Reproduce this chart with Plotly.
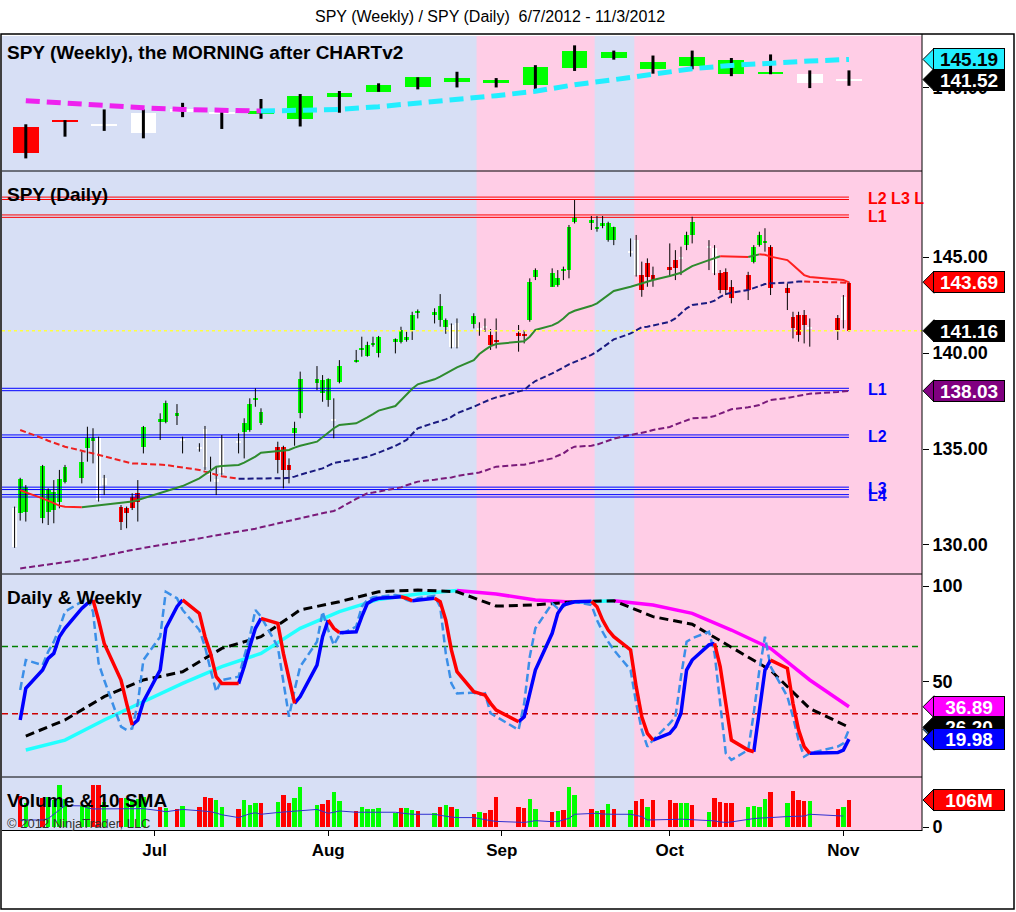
import pandas as pd
import plotly.graph_objects as go
from plotly.subplots import make_subplots

FONT = "Liberation Sans, Arial, sans-serif"

# ---- trading days on the chart (Jun 6 - Nov 2, 2012)
jun = [6, 7, 8, 11, 12, 13, 14, 15, 18, 19, 20, 21, 22, 25, 26, 27, 28, 29]
jul = [2, 3, 5, 6, 9, 10, 11, 12, 13, 16, 17, 18, 19, 20, 23, 24, 25, 26, 27, 30, 31]
aug = [1, 2, 3, 6, 7, 8, 9, 10, 13, 14, 15, 16, 17, 20, 21, 22, 23, 24, 27, 28, 29, 30, 31]
sep = [4, 5, 6, 7, 10, 11, 12, 13, 14, 17, 18, 19, 20, 21, 24, 25, 26, 27, 28]
octo = [1, 2, 3, 4, 5, 8, 9, 10, 11, 12, 15, 16, 17, 18, 19, 22, 23, 24, 25, 26, 31]
nov = [1, 2]
days = ([f"2012-06-{d:02d}" for d in jun] + [f"2012-07-{d:02d}" for d in jul]
        + [f"2012-08-{d:02d}" for d in aug] + [f"2012-09-{d:02d}" for d in sep]
        + [f"2012-10-{d:02d}" for d in octo] + [f"2012-11-{d:02d}" for d in nov])

# ---- daily SPY candles
d_open = [129.91, 133.42, 131.74, 134.11, 131.73, 132.78, 132.26, 133.3, 133.51, 135.03, 135.4, 135.56, 133.12, 132.0, 131.65, 131.91, 132.73, 135.12,
          136.4, 136.42, 136.75, 135.52, 135.12, 136.02, 133.73, 133.42, 133.73, 135.42, 135.9, 135.99, 137.6, 136.91, 135.12, 135.12, 134.17, 135.82, 136.86, 138.45, 137.9,
          137.55, 136.58, 138.51, 139.55, 140.16, 139.84, 140.42, 139.98, 140.59, 140.59, 140.68, 141.2, 142.1, 141.98, 141.72, 141.37, 141.46, 140.33, 141.51, 141.3, 141.4, 140.94, 140.7,
          141.06, 141.0, 141.72, 143.98, 144.15, 143.54, 144.3, 144.32, 146.84, 146.79, 146.44, 146.6, 146.75, 146.58, 145.3, 145.88, 144.06, 143.98, 144.06,
          144.32, 144.84, 145.0, 145.62, 146.15, 145.58, 145.45, 144.15, 144.23, 143.45, 144.06, 144.76, 145.62, 145.85, 145.54, 143.37, 141.89, 141.98, 141.98, 141.3, 141.8,
          141.72, 143.63]
d_high = [132.0, 133.5, 133.12, 134.17, 132.95, 133.38, 133.91, 134.17, 134.86, 136.16, 136.08, 135.64, 133.65, 132.08, 132.0, 132.69, 133.38, 136.2,
          136.86, 137.52, 137.34, 135.64, 135.3, 136.2, 134.6, 134.08, 135.73, 135.82, 136.6, 137.64, 138.16, 137.12, 135.38, 135.17, 134.51, 136.42, 139.03, 139.32, 138.85,
          138.68, 137.64, 139.63, 140.16, 140.85, 140.59, 140.85, 140.89, 140.76, 141.37, 141.11, 142.15, 142.27, 142.33, 143.07, 141.8, 141.54, 141.8, 142.07, 141.6, 141.8, 141.25, 141.8,
          141.46, 141.2, 143.89, 144.41, 144.41, 144.32, 144.5, 146.67, 147.97, 147.14, 147.14, 147.14, 146.84, 146.58, 145.97, 146.15, 144.76, 144.93, 144.5,
          145.71, 145.36, 145.54, 146.32, 147.1, 145.88, 145.62, 144.32, 144.41, 143.8, 144.23, 145.62, 146.32, 146.5, 145.62, 143.63, 142.15, 142.15, 142.24, 141.8, 141.98,
          143.02, 143.72]
d_low = [129.85, 131.27, 131.22, 131.13, 131.04, 131.13, 131.91, 133.21, 133.21, 134.34, 134.25, 132.26, 132.6, 130.78, 130.87, 131.82, 131.22, 134.77,
         135.47, 136.34, 136.25, 134.77, 134.86, 133.91, 133.3, 132.6, 133.65, 134.77, 134.51, 135.9, 137.2, 136.25, 133.73, 132.95, 133.21, 135.17, 136.6, 138.07, 137.46,
         137.2, 135.56, 138.42, 139.5, 139.81, 139.81, 140.33, 139.77, 139.98, 140.5, 140.59, 140.68, 141.8, 141.54, 141.37, 141.0, 140.24, 140.24, 141.28, 140.9, 141.1, 140.16, 140.24,
         140.07, 140.5, 141.63, 143.8, 143.45, 143.45, 143.8, 143.89, 146.75, 146.41, 146.32, 146.5, 145.8, 145.62, 145.02, 143.98, 142.93, 143.45, 143.45,
         143.98, 143.8, 144.06, 145.36, 145.71, 144.32, 144.06, 143.11, 143.02, 142.59, 142.76, 144.67, 145.54, 145.28, 143.02, 142.24, 140.76, 140.59, 140.5, 140.33, 140.68,
         141.28, 141.11]
d_close = [131.91, 131.65, 133.04, 131.39, 132.86, 131.82, 133.42, 134.04, 134.34, 135.56, 135.55, 132.34, 133.47, 131.22, 131.91, 132.52, 132.26, 136.16,
           136.55, 137.38, 136.85, 135.42, 135.03, 134.08, 133.65, 133.3, 135.64, 135.34, 136.34, 137.34, 137.68, 136.34, 134.43, 133.91, 133.91, 136.08, 138.63, 138.63, 138.59,
           138.63, 136.5, 139.32, 139.63, 140.24, 140.42, 140.5, 140.85, 140.71, 141.2, 140.85, 141.98, 142.15, 142.15, 142.46, 141.72, 140.33, 141.54, 141.93, 141.25, 141.35, 140.42, 140.6,
           140.89, 140.89, 143.71, 144.32, 143.45, 143.89, 144.4, 146.58, 147.1, 146.93, 146.58, 146.75, 145.88, 145.88, 145.25, 144.06, 143.28, 144.67, 143.8,
           144.5, 144.41, 144.96, 146.15, 146.84, 145.5, 144.15, 143.28, 143.28, 142.85, 143.28, 145.54, 146.15, 145.78, 143.37, 143.11, 141.28, 140.94, 141.46, 141.28, 141.2,
           142.93, 141.16]
d_paint = ("wggggggggggwwrrrrg" "gggwwwwwwwggggrrrgggg" "gwggggggggggggggwwgwwrr"
           "rrggggggggggggwwrrr" "rrwggwwrrrrgggrrrrrwr" "wr")

# moving averages on the daily panel
sma_fast = [None, 132.86, 132.74, 132.43, 132.31, 132.17, 132.05, 131.99, 131.96, 131.99, 132.03, 132.08, 132.1, 132.17, 132.2, 132.26, 132.34, 132.43,
            132.67, 132.76, 132.95, 133.07, 133.47, 133.68, 133.89, 134.08, 134.11, 134.17, 134.29, 134.43, 134.6, 134.81, 134.9, 134.93, 134.95, 135.07, 135.17, 135.38, 135.64,
            135.85, 136.08, 136.25, 136.34, 136.48, 136.65, 136.82, 137.0, 137.24, 137.55, 137.85, 138.14, 138.37, 138.63, 138.77, 138.94, 139.08, 139.25, 139.63, 139.95, 140.16, 140.36, 140.47,
            140.56, 140.61, 140.85, 141.2, 141.44, 141.58, 141.8, 142.07, 142.2, 142.46, 142.59, 142.79, 143.02, 143.23, 143.45, 143.54, 143.63, 143.71, 143.8,
            144.01, 144.08, 144.18, 144.36, 144.53, 144.84, 144.93, 145.04, 145.03, 145.02, 145.0, 145.06, 145.14, 145.12, 145.02, 144.84, 144.58, 144.32, 144.06, 143.96, 143.84,
            143.8, 143.68]
sma_mid = [None, 135.99, 135.89, 135.56, 135.43, 135.33, 135.21, 135.12, 134.91, 134.83, 134.76, 134.69, 134.62, 134.39, 134.32, 134.25, 134.24, 134.22,
           134.18, 134.17, 134.08, 134.03, 133.91, 133.82, 133.73, 133.63, 133.58, 133.45, 133.45, 133.46, 133.46, 133.47, 133.47, 133.48, 133.5, 133.56, 133.66, 133.91, 133.99,
           134.13, 134.27, 134.32, 134.46, 134.53, 134.6, 134.69, 134.81, 135.16, 135.3, 135.47, 135.78, 136.08, 136.37, 136.44, 136.54, 136.67, 136.86, 137.2, 137.34, 137.46, 137.59, 137.69,
           137.97, 138.07, 138.33, 138.54, 138.94, 139.08, 139.24, 139.41, 139.53, 139.9, 140.07, 140.28, 140.5, 140.71, 141.02, 141.2, 141.34, 141.37, 141.44,
           141.63, 141.8, 142.07, 142.33, 142.5, 142.62, 142.73, 142.93, 143.07, 143.14, 143.28, 143.37, 143.49, 143.59, 143.63, 143.66, 143.7, 143.72, 143.73, 143.71, 143.68,
           143.66, 143.65]
sma_slow = [None, 128.78, 128.82, 128.92, 128.96, 129.01, 129.04, 129.08, 129.22, 129.27, 129.32, 129.37, 129.44, 129.62, 129.69, 129.74, 129.79, 129.84,
            130.0, 130.05, 130.16, 130.21, 130.35, 130.4, 130.45, 130.5, 130.56, 130.69, 130.75, 130.78, 130.85, 130.92, 131.13, 131.2, 131.27, 131.34, 131.41, 131.6, 131.67,
            131.72, 131.77, 131.91, 132.4, 132.55, 132.69, 132.73, 132.78, 132.92, 133.0, 133.11, 133.19, 133.3, 133.4, 133.44, 133.47, 133.52, 133.59, 133.73, 133.78, 133.87, 133.98, 134.08,
            134.17, 134.18, 134.25, 134.32, 134.51, 134.65, 134.77, 134.98, 135.12, 135.17, 135.23, 135.33, 135.43, 135.54, 135.73, 135.78, 135.83, 135.9, 135.99,
            136.15, 136.27, 136.39, 136.51, 136.6, 136.65, 136.72, 136.84, 136.96, 137.07, 137.17, 137.22, 137.29, 137.43, 137.55, 137.66, 137.71, 137.8, 137.83, 137.88, 137.97,
            137.99, 138.03]

# daily stochastic lines (Daily & Weekly panel)
stoch_d = [None, 30.0, 46.5, 56.1, 62.2, 64.8, 73.5, 77.9, 88.3, 90.9, 92.7, 82.2, 70.0, 50.9, 38.7, 27.4, 30.0, 39.6,
           56.1, 77.9, 89.2, 92.7, 85.7, 73.5, 64.8, 52.6, 49.1, 49.0, 57.9, 68.3, 77.9, 83.1, 80.5, 64.8, 50.9, 38.7, 42.2, 58.7, 73.5,
           82.2, 77.9, 75.6, 76.1, 84.0, 90.9, 92.7, 93.6, 94.1, 94.4, 93.6, 92.3, 92.7, 93.6, 91.8, 82.2, 66.6, 55.3, 44.8, 43.9, 43.0, 38.7, 35.2,
           29.1, 31.7, 43.9, 56.1, 75.3, 85.7, 90.1, 90.9, 91.8, 92.0, 89.2, 82.2, 77.0, 73.5, 66.6, 47.4, 31.7, 23.0, 19.5,
           23.0, 26.5, 33.5, 56.1, 61.3, 69.2, 70.0, 57.9, 38.7, 19.5, 14.3, 13.4, 33.5, 56.1, 61.3, 57.0, 38.7, 24.8, 16.1, 12.6, 13.0,
           14.3, 19.98]
stoch_k = [None, 45.7, 61.3, 58.7, 65.7, 70.9, 77.9, 86.6, 91.8, 93.6, 86.6, 59.6, 50.9, 26.5, 24.8, 25.6, 38.7, 61.3,
           73.5, 97.0, 93.6, 87.5, 77.0, 68.3, 56.1, 44.8, 50.9, 52.6, 63.1, 73.5, 87.5, 84.0, 68.3, 50.9, 31.7, 45.7, 57.9, 70.9, 86.6,
           77.0, 69.2, 74.4, 78.8, 89.2, 92.7, 94.1, 94.4, 95.3, 94.8, 92.7, 91.8, 93.6, 94.8, 89.2, 64.8, 49.1, 43.9, 44.3, 43.0, 43.9, 33.5, 31.7,
           24.8, 38.7, 63.1, 77.9, 90.9, 88.3, 89.2, 91.8, 91.8, 90.1, 82.2, 76.1, 70.9, 66.6, 56.1, 38.7, 24.8, 16.1, 19.5,
           28.2, 31.7, 52.6, 70.9, 72.7, 76.1, 64.8, 38.7, 12.6, 9.1, 14.3, 33.5, 56.1, 73.5, 57.9, 42.2, 31.7, 19.5, 10.8, 12.6, 16.1,
           17.8, 25.1]

# volume (millions), bar colour, 10 SMA
volume = [None, 122, 93, 113, 119, 106, 165, 110, 83, 86, 165, 165, 100, 113, 113, 106, 110, 119,
          80, 73, 69, 84, 77, 117, 113, 106, 80, 69, 106, 86, 93, 93, 100, 126, 93, 113, 158, 86, 90,
          106, 136, 102, 63, 80, 71, 69, 75, 56, 75, 75, 67, 63, 54, 80, 86, 80, 71, 52, 60, 54, 67, 119,
          80, 76, 110, 71, 60, 64, 67, 158, 126, 71, 64, 67, 90, 71, 67, 102, 110, 80, 106,
          106, 93, 93, 96, 86, 60, 115, 100, 93, 93, 80, 83, 80, 110, 136, 96, 141, 106, 102, 102, 71,
          80, 106]
vol_paint = ("grgrggggggrrgrgggg" "rgrgrrrggrgggrgrrgggr" "rggrgggggrggrgrgrgrgrrr"
             "rrggrgrggrgrgrgrrgr" "rrggrgrrrrggggrgrrrgr" "gr")
vol_sma = [None, 27.5, 27.5, 27.5, 33, 49.8, 70, 84, 83, 75, 71, 71, 72, 73, 73, 73, 73, 72,
           64, 60, 66, 69, 64, 62, 60, 55, 48, 37, 45, 52, 56, 50, 57, 58, 60, 62, 64, 69, 60,
           54, 58, 63, 58, 58, 58, 58, 58, 58, 55, 52, 50, 50, 50, 46, 41, 39, 37, 37, 33, 28, 25, 22,
           18, 18, 21, 25, 21, 21, 28, 34, 50, 54, 54, 51, 50, 50, 50, 46, 41, 27.5, 27.5,
           27.5, 30, 31, 30, 29, 27.5, 24, 20, 18, 20, 31, 33, 35, 37, 37, 41, 41, 41, 43, 50, 43,
           43, None]

daily = pd.DataFrame(dict(date=days, open=d_open, high=d_high, low=d_low, close=d_close,
                          paint=list(d_paint), sma_fast=sma_fast, sma_mid=sma_mid, sma_slow=sma_slow,
                          stoch_d=stoch_d, stoch_k=stoch_k, volume=volume, vol_paint=list(vol_paint),
                          vol_sma=vol_sma))

# ---- weekly SPY candles (Fridays)
w_dates = ["2012-06-08", "2012-06-15", "2012-06-22", "2012-06-29", "2012-07-06", "2012-07-13", "2012-07-20",
           "2012-07-27", "2012-08-03", "2012-08-10", "2012-08-17", "2012-08-24", "2012-08-31", "2012-09-07",
           "2012-09-14", "2012-09-21", "2012-09-28", "2012-10-05", "2012-10-12", "2012-10-19", "2012-10-26",
           "2012-11-02"]
w_open = [132.85, 134.1, 133.3, 131.87, 136.0, 135.6, 135.3, 134.3, 138.3, 139.3, 140.25, 141.15, 140.85, 140.6, 143.7, 145.4, 144.75, 144.0, 145.07, 142.85, 142.6, 141.4]
w_high = [133.4, 134.15, 136.1, 136.1, 137.3, 136.0, 138.0, 138.9, 139.45, 140.85, 141.95, 142.95, 141.8, 144.15, 147.75, 146.8, 145.9, 146.8, 145.45, 146.1, 143.2, 143.2]
w_low = [127.2, 131.15, 132.2, 130.85, 134.7, 132.55, 134.4, 133.0, 135.5, 139.3, 139.75, 140.1, 140.1, 139.85, 143.1, 145.15, 142.6, 143.4, 142.15, 142.5, 139.98, 140.4]
w_close = [128.24, 134.0, 133.25, 135.5, 135.95, 135.5, 135.8, 138.55, 139.15, 140.55, 141.95, 141.75, 141.5, 143.84, 146.8, 146.6, 143.4, 145.7, 142.5, 142.75, 140.9, 141.52]
w_paint = "rrwwwwggggggggggggggww"
w_ma = [137.7, 137.2, 136.8, 136.4, 136.1, 135.9, 135.8, 135.9, 136.1, 136.6, 137.2, 137.8, 138.6, 139.4, 140.6, 141.5, 142.4, 143.5, 144.1, 144.6, 144.9, 145.19]
w_stoch_slow = [21.6, 30.0, 42.2, 50.9, 55.2, 67.4, 73.5, 87.5, 91.8, 97.0, 97.9, 97.0, 89.5, 90.1, 91.8, 92.3, 84.0, 80.0, 68.0, 56.0, 36.0, 26.2]
w_stoch_fast = [14.3, 19.5, 30.0, 39.6, 49.1, 57.9, 64.8, 77.9, 86.6, 93.0, 95.8, 97.6, 95.8, 92.7, 91.5, 92.3, 90.1, 85.7, 77.0, 67.4, 50.9, 36.89]

weekly = pd.DataFrame(dict(date=w_dates, open=w_open, high=w_high, low=w_low, close=w_close,
                           paint=list(w_paint), ma=w_ma, slow=w_stoch_slow, fast=w_stoch_fast))

# horizontal levels, background periods
red_levels = [148.06, 147.13]
red_level_text = ["L2 L3 L", "L1"]
blue_levels = [138.1, 135.67, 132.95, 132.56]
blue_level_text = ["L1", "L2", "L3", "L4"]
osc_levels = [(68.4, "#008000"), (33.2, "#cc0000")]
pink_periods = [("2012-08-27 12:00", "2012-09-17 14:00"), ("2012-09-24 16:00", "2012-11-20")]

PAINT = {"g": "#00ff00", "r": "#ff0000", "w": "#ffffff"}
DAY_MS = 86400000
X_RANGE = ["2012-06-03 18:00", "2012-11-15 01:00"]

# panel layout in pixels from top of plot area
PLOT_H = 794
panel_px = [(0, 134), (136, 537), (539, 740), (742, 794)]
domains = [[1 - b / PLOT_H, 1 - t / PLOT_H] for t, b in panel_px]
ranges = [[125.09, 149.45], [128.54, 149.43], [0.73, 105.75], [-11.8, 192.6]]


def wick_xy(x, hi, lo):
    wx, wy = [], []
    for a, h, l in zip(x, hi, lo):
        wx += [a, a, None]
        wy += [h, l, None]
    return wx, wy


def bodies(o, c, min_h):
    hs = [max(abs(b - a), min_h) for a, b in zip(o, c)]
    bases = [(a + b) / 2 - h / 2 for a, b, h in zip(o, c, hs)]
    return hs, bases


def slope_runs(xs, ys):
    pts = [(a, b) for a, b in zip(xs, ys) if b is not None]
    runs = {True: ([], []), False: ([], [])}
    s = 0
    while s < len(pts) - 1:
        up = pts[s + 1][1] >= pts[s][1]
        e = s + 1
        while e < len(pts) - 1 and (pts[e + 1][1] >= pts[e][1]) == up:
            e += 1
        rx, ry = runs[up]
        rx += [p[0] for p in pts[s:e + 1]] + [None]
        ry += [p[1] for p in pts[s:e + 1]] + [None]
        s = e
    return runs


def add_sloped(fig, xs, ys, row, up_color, dn_color, width, dash="solid"):
    runs = slope_runs(xs, ys)
    for up, color in ((True, up_color), (False, dn_color)):
        rx, ry = runs[up]
        fig.add_trace(go.Scatter(x=rx, y=ry, mode="lines",
                                 line=dict(color=color, width=width, dash=dash)), row=row, col=1)


fig = make_subplots(rows=4, cols=1, shared_xaxes=True, vertical_spacing=0.01)

# ---- weekly panel
wx, wy = wick_xy(weekly.date, weekly.high, weekly.low)
fig.add_trace(go.Scatter(x=wx, y=wy, mode="lines", line=dict(color="black", width=3)), row=1, col=1)
hs, bs = bodies(weekly.open, weekly.close, 0.35)
fig.add_trace(go.Bar(x=weekly.date, y=hs, base=bs, width=DAY_MS * 4.6,
                     marker=dict(color=[PAINT[p] for p in weekly.paint], line=dict(width=0))), row=1, col=1)
add_sloped(fig, weekly.date, weekly.ma, 1, "#22eeff", "#ee22ee", 5, "14px,7px")

# ---- daily panel
gap = 1.2 * (ranges[1][1] - ranges[1][0]) / (panel_px[1][1] - panel_px[1][0])
for lv_list, color in ((red_levels, "#ff0000"), (blue_levels, "#0000ff")):
    for lv in lv_list:
        for off in (-gap, gap):
            fig.add_trace(go.Scatter(x=[X_RANGE[0], days[-1]], y=[lv + off] * 2, mode="lines",
                                     line=dict(color=color, width=1)), row=2, col=1)
wx, wy = wick_xy(daily.date, daily.high, daily.low)
fig.add_trace(go.Scatter(x=wx, y=wy, mode="lines", line=dict(color="black", width=1)), row=2, col=1)
hs, bs = bodies(daily.open, daily.close, 0.07)
fig.add_trace(go.Bar(x=daily.date, y=hs, base=bs, width=DAY_MS * 0.85,
                     marker=dict(color=[PAINT[p] for p in daily.paint], line=dict(width=0))), row=2, col=1)
fig.add_trace(go.Scatter(x=daily.date, y=daily.sma_slow, mode="lines",
                         line=dict(color="#7a1a7a", width=2, dash="6px,3px")), row=2, col=1)
add_sloped(fig, list(daily.date), list(daily.sma_mid), 2, "#1a1a80", "#ee2020", 2, "6px,3px")
add_sloped(fig, list(daily.date), list(daily.sma_fast), 2, "#2e8b2e", "#ff2020", 2)
fig.add_trace(go.Scatter(x=X_RANGE, y=[d_close[-1]] * 2, mode="lines",
                         line=dict(color="#ffff40", width=1.5, dash="3px,3px")), row=2, col=1)

# ---- Daily & Weekly oscillator panel
for lv, color in osc_levels:
    fig.add_trace(go.Scatter(x=X_RANGE, y=[lv] * 2, mode="lines",
                             line=dict(color=color, width=1.5, dash="6px,4px")), row=3, col=1)
add_sloped(fig, weekly.date, weekly.fast, 3, "#22ffff", "#ff00ff", 3.5)
fig.add_trace(go.Scatter(x=weekly.date, y=weekly.slow, mode="lines",
                         line=dict(color="black", width=3, dash="9px,5px")), row=3, col=1)
fig.add_trace(go.Scatter(x=daily.date, y=daily.stoch_k, mode="lines",
                         line=dict(color="#3b8fe8", width=2.5, dash="8px,4px")), row=3, col=1)
add_sloped(fig, list(daily.date), list(daily.stoch_d), 3, "#0000ff", "#ff0000", 3.5)

# ---- volume panel
fig.add_trace(go.Bar(x=daily.date, y=daily.volume, width=DAY_MS * 0.8,
                     marker=dict(color=[PAINT[p] for p in daily.vol_paint], line=dict(width=0))), row=4, col=1)
fig.add_trace(go.Scatter(x=daily.date, y=daily.vol_sma, mode="lines",
                         line=dict(color="#3030d0", width=1)), row=4, col=1)

# ---- axes
fig.update_xaxes(range=X_RANGE, type="date", showgrid=False, zeroline=False)
fig.update_xaxes(row=4, col=1, showticklabels=True, dtick="M1", tick0="2012-07-01", tickformat="%b",
                 ticks="outside", ticklen=5, tickcolor="black", showline=True, linecolor="black",
                 tickfont=dict(family=FONT, size=17, color="black", weight="bold"))
tickspecs = [dict(tickvals=[140], ticktext=["140.00"]),
             dict(tickvals=[130, 135, 140, 145], tickformat=".2f"),
             dict(tickvals=[50, 100]),
             dict(tickvals=[0])]
for i in range(4):
    fig.update_yaxes(row=i + 1, col=1, domain=domains[i], range=ranges[i], side="right",
                     showgrid=False, zeroline=False, ticks="outside", ticklen=6, tickcolor="black",
                     tickfont=dict(family=FONT, size=18, color="black", weight="bold"), **tickspecs[i])

# ---- background, frame, separators
shapes = [dict(type="rect", xref="paper", yref="paper", x0=0, x1=1, y0=0, y1=1,
               fillcolor="#d7dff5", line=dict(width=0), layer="below")]
for a, b in pink_periods:
    shapes.append(dict(type="rect", xref="x", yref="paper", x0=a, x1=b, y0=0, y1=1,
                       fillcolor="#ffcde6", line=dict(width=0), layer="below"))
for i in range(3):
    ys = (domains[i][0] + domains[i + 1][1]) / 2
    shapes.append(dict(type="line", xref="paper", yref="paper", x0=0, x1=1, y0=ys, y1=ys,
                       line=dict(color="black", width=1), layer="above"))
shapes.append(dict(type="line", xref="paper", yref="paper", x0=1, x1=1, y0=-1 / PLOT_H, y1=1 + 2 / PLOT_H,
                   line=dict(color="black", width=1), layer="above"))
shapes.append(dict(type="rect", xref="paper", yref="paper", x0=-1 / 920, x1=1012 / 920,
                   y0=-79 / PLOT_H, y1=1 + 2 / PLOT_H, line=dict(color="black", width=1.5), layer="above"))

annotations = []


def value_label(panel, value, text, bg, fg):
    dom, rng = domains[panel], ranges[panel]
    yp = dom[0] + (value - rng[0]) / (rng[1] - rng[0]) * (dom[1] - dom[0])
    shapes.append(dict(type="path", xref="paper", yref="paper", xsizemode="pixel", ysizemode="pixel",
                       xanchor=1, yanchor=yp, path="M 1,0 L 12,11 L 12,-11 Z", fillcolor=bg,
                       line=dict(color="black", width=1), layer="above"))
    annotations.append(dict(xref="paper", yref="paper", x=1, y=yp, xanchor="left", yanchor="middle",
                            xshift=11, text=f"<b>{text}</b>", showarrow=False, bgcolor=bg,
                            bordercolor="black", borderwidth=1, borderpad=0, width=70, height=20,
                            font=dict(family=FONT, size=19, color=fg)))


value_label(0, w_ma[-1], f"{w_ma[-1]:.2f}", "#22eeff", "black")
value_label(0, w_close[-1], f"{w_close[-1]:.2f}", "black", "white")
value_label(1, sma_fast[-1] + 0.01, "143.69", "#ff0000", "white")
value_label(1, d_close[-1], f"{d_close[-1]:.2f}", "black", "white")
value_label(1, sma_slow[-1], f"{sma_slow[-1]:.2f}", "#800080", "white")
value_label(2, w_stoch_fast[-1], f"{w_stoch_fast[-1]:.2f}", "#ff00ff", "white")
value_label(2, stoch_k[-1], f"{stoch_k[-1]:.2f}", "#3b8fe8", "white")
value_label(2, w_stoch_slow[-1], f"{w_stoch_slow[-1]:.2f}", "black", "white")
value_label(2, stoch_d[-1], f"{stoch_d[-1]:.2f}", "#0000ff", "white")
value_label(3, volume[-1], f"{volume[-1]}M", "#ff0000", "white")

# level tags
for levels, texts, color in ((red_levels, red_level_text, "#ff0000"), (blue_levels, blue_level_text, "#0000ff")):
    for lv, t in zip(levels, texts):
        annotations.append(dict(xref="x2", yref="y2", x="2012-11-05", y=lv, xanchor="left", yanchor="middle",
                                text=f"<b>{t}</b>", showarrow=False,
                                font=dict(family=FONT, size=16, color=color)))

# panel titles
titles = ["SPY (Weekly), the MORNING after CHARTv2", "SPY (Daily)", "Daily & Weekly", "Volume & 10 SMA"]
title_off = [-16, -22, -22, -22]
for i, t in enumerate(titles):
    annotations.append(dict(xref="paper", yref="paper", x=0, y=domains[i][1], xanchor="left", yanchor="middle",
                            xshift=3, yshift=title_off[i], text=f"<b>{t}</b>", showarrow=False,
                            font=dict(family=FONT, size=19, color="black")))
annotations.append(dict(xref="paper", yref="paper", x=0, y=domains[3][1], xanchor="left", yanchor="middle",
                        xshift=3, yshift=-45, text="© 2012 NinjaTrader, LLC", showarrow=False,
                        font=dict(family=FONT, size=13, color="#333333")))
annotations.append(dict(xref="paper", yref="paper", x=(490 - 2) / 920, y=1 + 20 / PLOT_H, xanchor="center",
                        yanchor="middle", text="SPY (Weekly) / SPY (Daily)  6/7/2012 - 11/3/2012",
                        showarrow=False, font=dict(family=FONT, size=16, color="black")))

fig.update_layout(width=1016, height=912, margin=dict(l=2, r=94, t=36, b=82),
                  paper_bgcolor="white", plot_bgcolor="rgba(0,0,0,0)", showlegend=False,
                  barmode="overlay", bargap=0, hovermode=False,
                  shapes=shapes, annotations=annotations, font=dict(family=FONT))

fig.write_html("out.html", config={"displayModeBar": False},
               post_script="document.body.style.margin='0px';")
